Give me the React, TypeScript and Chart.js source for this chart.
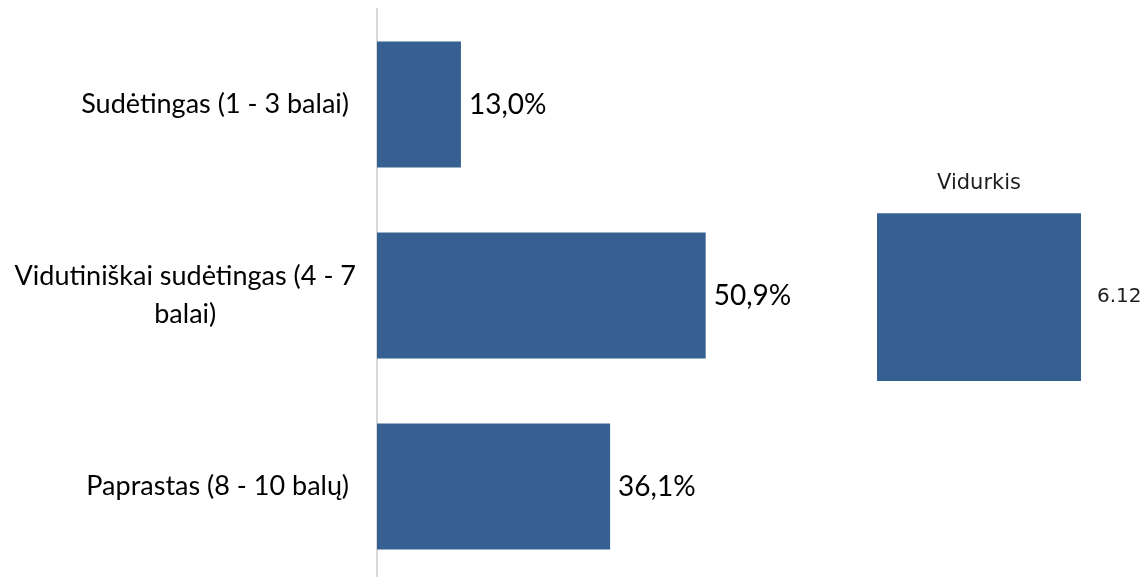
import React, { useEffect, useRef } from "react";
import { Chart, registerables } from "chart.js";

Chart.register(...registerables);

const categories: string[][] = [
  ["Sudėtingas (1 - 3 balai)"],
  ["Vidutiniškai sudėtingas (4 - 7", "balai)"],
  ["Paprastas (8 - 10 balų)"],
];
const shares: number[] = [13.0, 50.9, 36.1];
const shareLabels: string[] = ["13,0%", "50,9%", "36,1%"];

const averageTitle = "Vidurkis";
const averageCategory: string[] = [""];
const averageValues: number[] = [6.12];
const averageLabels: string[] = ["6.12"];

const BAR = "#376092";
const FONT = "Lato, 'Open Sans', sans-serif";
const INSET_FONT = "'DejaVu Sans', Verdana, sans-serif";

const categoryLabelPlugin = {
  id: "categoryLabels",
  afterDraw(chart: any, _args: any, opts: any) {
    if (!opts || !opts.labels) return;
    const scale = chart.scales.y;
    const ctx = chart.ctx;
    ctx.save();
    ctx.font = `${opts.size}px ${FONT}`;
    ctx.fillStyle = "#000";
    ctx.textBaseline = "middle";
    ctx.textAlign = "center";
    const right = chart.chartArea.left - opts.gap;
    opts.labels.forEach((lines: string[], i: number) => {
      const y = scale.getPixelForTick(i);
      const widest = Math.max(...lines.map((l) => ctx.measureText(l).width));
      const cx = right - widest / 2 + (lines.length > 1 ? opts.multiShift : 0);
      const total = (lines.length - 1) * opts.lineHeight;
      lines.forEach((l, j) => {
        ctx.fillText(l, cx, y - total / 2 + j * opts.lineHeight);
      });
    });
    ctx.restore();
  },
};

const valueLabelPlugin = {
  id: "valueLabels",
  afterDatasetsDraw(chart: any, _args: any, opts: any) {
    if (!opts || !opts.labels) return;
    const ctx = chart.ctx;
    const meta = chart.getDatasetMeta(0);
    ctx.save();
    ctx.font = `${opts.weight || "normal"} ${opts.size}px ${opts.family || FONT}`;
    ctx.fillStyle = opts.color || "#000";
    ctx.textBaseline = "middle";
    ctx.textAlign = "left";
    meta.data.forEach((el: any, i: number) => {
      ctx.fillText(opts.labels[i], el.x + opts.offset, el.y);
    });
    ctx.restore();
  },
};

function MainChart() {
  const ref = useRef<HTMLCanvasElement>(null);
  useEffect(() => {
    const chart = new Chart(ref.current!, {
      type: "bar",
      data: {
        labels: categories.map((c) => c.join(" ")),
        datasets: [
          {
            data: shares,
            backgroundColor: BAR,
            borderWidth: 0,
            barPercentage: 0.66,
            categoryPercentage: 1,
          },
        ],
      },
      options: {
        indexAxis: "y",
        animation: false,
        responsive: false,
        layout: { padding: { left: 377, right: 316, top: 9, bottom: 8 } },
        scales: {
          x: { display: false, min: 0, max: 70 },
          y: {
            ticks: { display: false },
            grid: { display: false, drawTicks: false, tickLength: 0 },
            border: { display: true, color: "#d9d9d9", width: 2 },
          },
        },
        plugins: {
          legend: { display: false },
          tooltip: { enabled: false },
          categoryLabels: { labels: categories, size: 27, gap: 28, lineHeight: 38, multiShift: 7 },
          valueLabels: { labels: shareLabels, size: 28, offset: 8 },
        } as any,
      },
      plugins: [categoryLabelPlugin, valueLabelPlugin],
    });
    return () => chart.destroy();
  }, []);
  return (
    <canvas
      ref={ref}
      width={1145}
      height={590}
      style={{ position: "absolute", left: 0, top: 0, width: 1145, height: 590 }}
    />
  );
}

function AverageChart() {
  const ref = useRef<HTMLCanvasElement>(null);
  useEffect(() => {
    const chart = new Chart(ref.current!, {
      type: "bar",
      data: {
        labels: averageCategory,
        datasets: [
          {
            data: averageValues,
            backgroundColor: BAR,
            borderWidth: 0,
            barPercentage: 1,
            categoryPercentage: 1,
          },
        ],
      },
      options: {
        indexAxis: "y",
        animation: false,
        responsive: false,
        layout: { padding: { left: 27, right: 64, top: 0, bottom: 0 } },
        scales: {
          x: { display: false, min: 0, max: 6.12 },
          y: { display: false },
        },
        plugins: {
          legend: { display: false },
          tooltip: { enabled: false },
          title: {
            display: true,
            text: averageTitle,
            color: "#1e1e1e",
            font: { family: INSET_FONT, size: 21, weight: "normal", lineHeight: 1.2 },
            padding: { top: 11, bottom: 17 },
          },
          valueLabels: { labels: averageLabels, size: 20, offset: 16, color: "#1e1e1e", family: INSET_FONT },
        } as any,
      },
      plugins: [valueLabelPlugin],
    });
    return () => chart.destroy();
  }, []);
  return (
    <canvas
      ref={ref}
      width={295}
      height={221}
      style={{ position: "absolute", left: 850, top: 160, width: 295, height: 221 }}
    />
  );
}

export default function App() {
  return (
    <div style={{ position: "fixed", left: 0, top: 0, width: 1145, height: 577, overflow: "hidden", background: "#fff" }}>
      <MainChart />
      <AverageChart />
    </div>
  );
}
